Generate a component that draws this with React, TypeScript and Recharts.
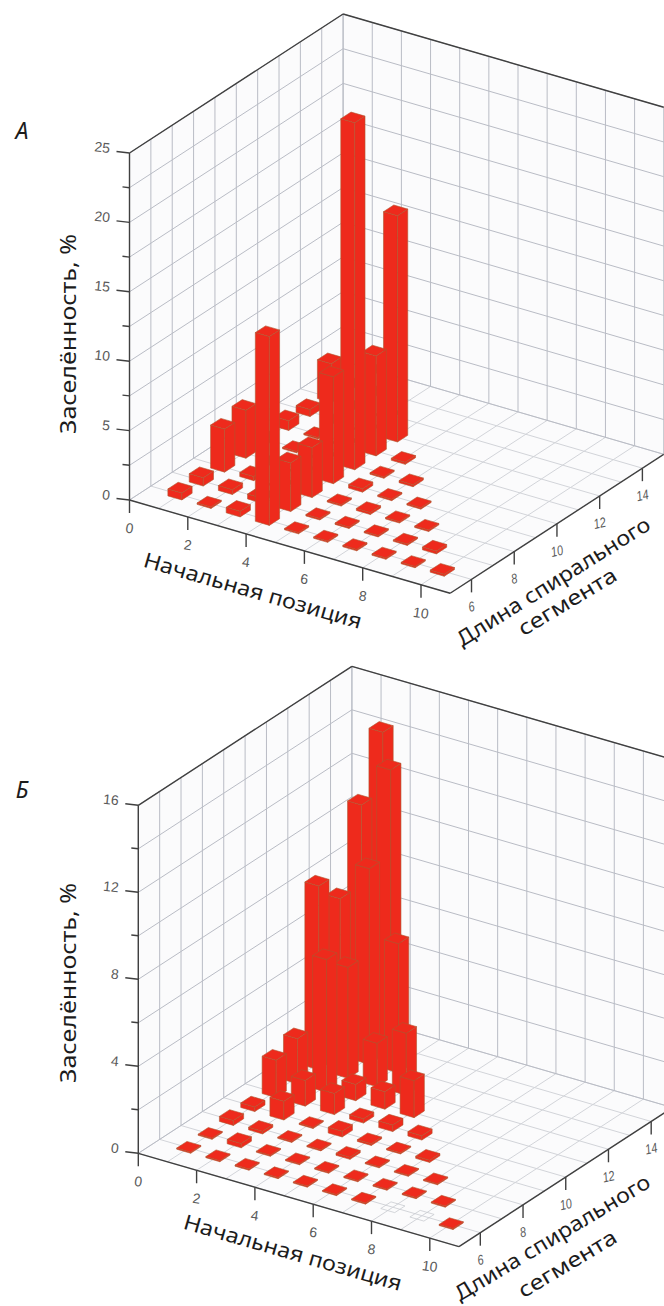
import { ScatterChart, Scatter, XAxis, YAxis, ReferenceLine } from "recharts";

// Ось длин спирального сегмента и начальные позиции
const LENGTHS = [6, 7, 8, 9, 10, 11, 12, 13, 14, 15];
const STARTS = [1, 2, 3, 4, 5, 6, 7, 8, 9, 10];

// строки по длине сегмента, столбцы по начальной позиции (p + L <= 16)
const OCCUPANCY_A = [
  [0.5, 0.1, 0.4, 13.6, 0.1, 0.1, 0.1, 0.1, 0.1, 0.15],
  [0.6, 0.35, 0.35, 3.5, 0.1, 0.1, 0.1, 0.1, 0.2],
  [3.1, 0.3, 0.1, 3.6, 0.1, 0.15, 0.1, 0.1],
  [3.45, 0.1, 0.1, 7.7, 0.25, 0.1, 0.1],
  [0.3, 0.1, 0.1, 25, 0.1, 0.15],
  [0.7, 0.1, 0.1, 7.2, 0.15],
  [0.5, 0.1, 0.1, 16.3],
  [2.8, 0.1, 0.1],
  [0.1, 0.1],
  [0.1],
];

const OCCUPANCY_B = [
  [0.05, 0.05, 0.05, 0.05, 0.05, 0.05, 0.05, 0, 0, 0.05],
  [0.05, 0.2, 0.05, 0.05, 0.05, 0.05, 0.05, 0.05, 0.05],
  [0.23, 0.12, 0.05, 0.05, 0.1, 0.05, 0.05, 0.05],
  [0.21, 0.86, 0.05, 0.26, 0.08, 0.05, 0.1],
  [1.72, 1.18, 0.97, 0.2, 0.3, 0.2],
  [2.07, 6.1, 0.75, 0.8, 1.7],
  [8.45, 5.1, 2, 2.85],
  [7.23, 9, 5.94],
  [10.9, 12.9],
  [13.6],
];

const POS_GRID = [0, 1, 2, 3, 4, 5, 6, 7, 8, 9, 10, 11];
const LEN_GRID = [5, 6, 7, 8, 9, 10, 11, 12, 13, 14, 15];
const POS_TICKS = [0, 2, 4, 6, 8, 10];
const LEN_TICKS = [6, 8, 10, 12, 14];
const Z_GRID_A = [0, 2.5, 5, 7.5, 10, 12.5, 15, 17.5, 20, 22.5, 25];
const Z_TICKS_A = [0, 5, 10, 15, 20, 25];
const Z_GRID_B = [0, 2, 4, 6, 8, 10, 12, 14, 16];
const Z_TICKS_B = [0, 4, 8, 12, 16];

const WIDTH = 664;
const HEIGHT = 653;
const UP = 29.15; // px на единицу позиции
const UPY = 8.48;
const UL = 21.36; // px на единицу длины
const ULY = 13.9;
const HALF = 0.24;

const RED = "#ee2a1c";
const EDGE = "#b0552f";
const GRID = "#b9bcc5";
const FLOOR_GRID = "#d2d4d9";
const AXIS = "#404040";
const TITLE_FONT = "'Noto Sans', sans-serif";

function pts(list: number[][]) {
  return list.map((p) => p.join(",")).join(" ");
}

function Bar3D(props: any) {
  const { cx, cy, payload } = props;
  const h = payload.pixelHeight;
  const ax = (UP + UL) * HALF;
  const ay = (UPY - ULY) * HALF;
  const bx = (UP - UL) * HALF;
  const by = (UPY + ULY) * HALF;
  const A = [cx - ax, cy - ay];
  const B = [cx + bx, cy + by];
  const C = [cx + ax, cy + ay];
  const D = [cx - bx, cy - by];
  const up = (p: number[]) => [p[0], p[1] - h];
  if (payload.value === 0) {
    return <polygon points={pts([A, B, C, D])} fill="none" stroke="#c9cbd0" strokeWidth={0.8} />;
  }
  return (
    <g stroke={EDGE} strokeWidth={0.6} strokeLinejoin="round" fill={RED}>
      <polygon points={pts([A, B, up(B), up(A)])} />
      <polygon points={pts([B, C, up(C), up(B)])} />
      <polygon points={pts([up(A), up(B), up(C), up(D)])} />
    </g>
  );
}

function Walls(props: any) {
  const { payload } = props;
  return <polygon points={pts(payload.corners)} fill="#fbfbfc" stroke="none" />;
}

function PlotText(props: any) {
  const { cx, cy, payload } = props;
  return (
    <text
      x={cx}
      y={cy}
      textAnchor={payload.anchor || "middle"}
      dominantBaseline="central"
      transform={payload.angle ? `rotate(${payload.angle} ${cx} ${cy})` : undefined}
      fontFamily={payload.font}
      fontSize={payload.size}
      fontStyle={payload.italic ? "italic" : "normal"}
      fill={payload.color}
      textLength={payload.textLength}
      lengthAdjust="spacingAndGlyphs"
    >
      {payload.text}
    </text>
  );
}

function Panel({ occupancy, zGrid, zTicks, zMax, ox, oy, letter, letterY, zTitleY, titles }: any) {
  const zScale = zMax === 16 ? 348 / 16 : 347 / 25;
  const px = (p: number, l: number) => ox + UP * p + UL * (l - 5);
  const py = (p: number, l: number, z = 0) => oy + UPY * p - ULY * (l - 5) - z * zScale;

  const segs: { a: number[]; b: number[]; color: string; w: number }[] = [];
  const seg = (a: number[], b: number[], color: string, w = 1) => segs.push({ a, b, color, w });
  const pt = (p: number, l: number, z = 0) => [px(p, l), py(p, l, z)];

  // пол
  POS_GRID.forEach((p) => seg(pt(p, 5), pt(p, 15), FLOOR_GRID));
  LEN_GRID.forEach((l) => seg(pt(0, l), pt(11, l), FLOOR_GRID));
  // левая и задняя стенки
  LEN_GRID.forEach((l) => seg(pt(0, l), pt(0, l, zMax), GRID));
  POS_GRID.forEach((p) => seg(pt(p, 15), pt(p, 15, zMax), GRID));
  zGrid.forEach((z: number) => {
    seg(pt(0, 5, z), pt(0, 15, z), GRID);
    seg(pt(0, 15, z), pt(11, 15, z), GRID);
  });
  // верхняя кромка и оси
  seg(pt(0, 5, zMax), pt(0, 15, zMax), AXIS, 1.4);
  seg(pt(0, 15, zMax), pt(11, 15, zMax), AXIS, 1.4);
  seg(pt(0, 5), pt(0, 5, zMax), AXIS, 1.4);
  seg(pt(0, 5), pt(11, 5), AXIS, 1.4);
  seg(pt(11, 5), pt(11, 15), AXIS, 1.4);
  POS_TICKS.forEach((p) => {
    const q = pt(p, 5);
    seg(q, [q[0], q[1] + 13], AXIS, 1.4);
  });
  LEN_TICKS.forEach((l) => {
    const q = pt(11, l);
    seg(q, [q[0], q[1] + 13], AXIS, 1.4);
  });
  zGrid.forEach((z: number) => {
    const q = pt(0, 5, z);
    const major = zTicks.includes(z);
    seg(q, [q[0] - (major ? 13 : 7), q[1] - (major ? 1.5 : 0.8)], AXIS, 1.4);
  });

  const bars: any[] = [];
  occupancy.forEach((row: number[], i: number) =>
    row.forEach((value, j) => {
      const p = STARTS[j];
      const l = LENGTHS[i];
      bars.push({ x: px(p, l), y: py(p, l), value, pixelHeight: value * zScale });
    })
  );
  bars.sort((a, b) => a.y - b.y);

  const tickFont = "'Liberation Sans', Arial, sans-serif";
  const tickColor = "#5a5a5a";
  const labels: any[] = [
    ...POS_TICKS.map((p) => ({
      x: px(p, 5), y: py(p, 5) + 28, text: String(p), size: 14, font: tickFont, color: tickColor, angle: 8,
    })),
    ...LEN_TICKS.map((l) => ({
      x: px(11, l), y: py(11, l) + 27, text: String(l), size: 14, font: tickFont, color: tickColor, angle: -12, italic: true,
      textLength: String(l).length * 6,
    })),
    ...zTicks.map((z: number) => ({
      x: ox - 19.5, y: py(0, 5, z) - 5, text: String(z), size: 14, font: tickFont, color: tickColor, angle: 6, anchor: "end",
    })),
    { x: 67, y: zTitleY, text: "Заселённость, %", size: 22, font: TITLE_FONT, color: "#1c1c1c", angle: -90, textLength: 200 },
    { x: 22, y: letterY, text: letter, size: 23, font: TITLE_FONT, color: "#1c1c1c", italic: true },
    ...titles.map((t: any) => ({ ...t, size: 21, font: TITLE_FONT, color: "#1c1c1c" })),
  ];

  const floor = [pt(0, 5), pt(11, 5), pt(11, 15), pt(0, 15)];
  const leftWall = [pt(0, 5), pt(0, 15), pt(0, 15, zMax), pt(0, 5, zMax)];
  const backWall = [pt(0, 15), pt(11, 15), pt(11, 15, zMax), pt(0, 15, zMax)];
  const walls = [floor, leftWall, backWall].map((corners) => ({ x: corners[0][0], y: corners[0][1], corners }));

  return (
    <ScatterChart width={WIDTH} height={HEIGHT} margin={{ top: 0, right: 0, bottom: 0, left: 0 }}>
      <XAxis type="number" dataKey="x" domain={[0, WIDTH]} hide />
      <YAxis type="number" dataKey="y" domain={[0, HEIGHT]} reversed hide />
      <Scatter data={walls} shape={Walls} isAnimationActive={false} zIndex={-10} />
      {segs.map((s, i) => (
        <ReferenceLine
          key={i}
          segment={[
            { x: s.a[0], y: s.a[1] },
            { x: s.b[0], y: s.b[1] },
          ]}
          stroke={s.color}
          strokeWidth={s.w}
          ifOverflow="visible"
          zIndex={10}
        />
      ))}
      <Scatter data={bars} shape={Bar3D} isAnimationActive={false} zIndex={20} />
      <Scatter data={labels} shape={PlotText} isAnimationActive={false} zIndex={30} />
    </ScatterChart>
  );
}

const TITLES_A = [
  { x: 253, y: 590, text: "Начальная позиция", angle: 16, textLength: 226 },
  { x: 553, y: 581, text: "Длина спирального", angle: -32, textLength: 224 },
  { x: 567, y: 601, text: "сегмента", angle: -31, textLength: 111 },
];
const TITLES_B = [
  { x: 293, y: 599, text: "Начальная позиция", angle: 16, textLength: 226 },
  { x: 552, y: 584, text: "Длина спирального", angle: -31, textLength: 224 },
  { x: 567, y: 610, text: "сегмента", angle: -31, textLength: 111 },
];

export default function App() {
  return (
    <div style={{ position: "absolute", left: 0, top: 0, width: WIDTH, background: "#fff" }}>
      <Panel occupancy={OCCUPANCY_A} zGrid={Z_GRID_A} zTicks={Z_TICKS_A} zMax={25} ox={129.5} oy={500} letter="А" letterY={130} zTitleY={334} titles={TITLES_A} />
      <Panel occupancy={OCCUPANCY_B} zGrid={Z_GRID_B} zTicks={Z_TICKS_B} zMax={16} ox={138.3} oy={500.3} letter="Б" letterY={136} zTitleY={330} titles={TITLES_B} />
    </div>
  );
}
